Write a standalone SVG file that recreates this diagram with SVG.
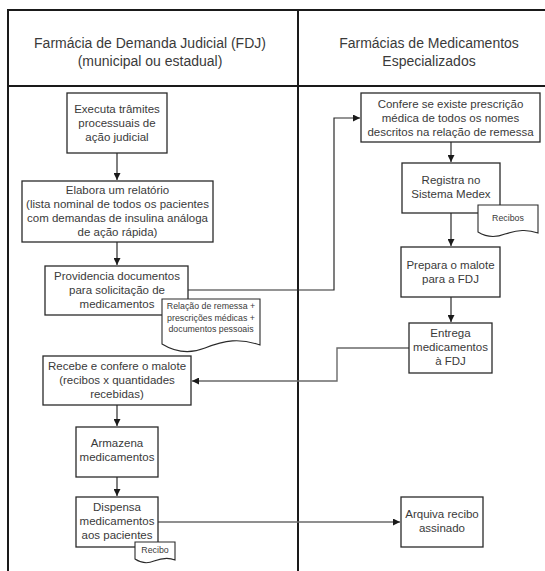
<svg xmlns="http://www.w3.org/2000/svg" width="545" height="571" viewBox="0 0 545 571">
<style>
text{font-family:"Liberation Sans",Arial,sans-serif;fill:#3a3a3a;text-anchor:middle}
.h{font-size:14px}
.t{font-size:11.5px}
.d{font-size:8.8px}
.box{fill:#fff;stroke:#2a2a2a;stroke-width:1.3}
.doc{fill:#fff;stroke:#2a2a2a;stroke-width:1.1}
.lane{fill:none;stroke:#1a1a1a;stroke-width:2}
.c{fill:none;stroke:#2a2a2a;stroke-width:1.2}
.g{fill:none;stroke:#6a6a6a;stroke-width:1.4}
</style>
<defs>
<marker id="a" viewBox="0 0 8 8" refX="8" refY="4" markerWidth="7" markerHeight="7" markerUnits="userSpaceOnUse" orient="auto">
<path d="M0,0 L8,4 L0,8 Z" fill="#1a1a1a"/>
</marker>
</defs>
<rect width="545" height="571" fill="#fff"/>
<g id="lanes">
<path class="lane" d="M8,571 V10 H545 M8,86 H545 M298,10 V571"/>
<text class="h" x="150" y="48">Farmácia de Demanda Judicial (FDJ)</text>
<text class="h" x="150" y="66">(municipal ou estadual)</text>
<text class="h" x="429" y="48">Farmácias de Medicamentos</text>
<text class="h" x="429" y="66">Especializados</text>
</g>
<g id="connectors">
<path class="c" d="M117,153 V180" marker-end="url(#a)"/>
<path class="c" d="M117,242 V265" marker-end="url(#a)"/>
<path class="c" d="M188,290 H334 V118 H360" marker-end="url(#a)"/>
<path class="c" d="M451,142 V162" marker-end="url(#a)"/>
<path class="c" d="M451,213 V246" marker-end="url(#a)"/>
<path class="c" d="M451,297 V322" marker-end="url(#a)"/>
<path class="g" d="M409,348 H337 V381 H192" marker-end="url(#a)"/>
<path class="c" d="M117,405 V426" marker-end="url(#a)"/>
<path class="c" d="M117,477 V496" marker-end="url(#a)"/>
<path class="g" d="M158,522 H400" marker-end="url(#a)"/>
</g>
<g id="n1">
<rect class="box" x="67" y="93" width="100" height="60"/>
<text class="t" x="117" y="113">Executa trâmites</text>
<text class="t" x="117" y="127">processuais de</text>
<text class="t" x="117" y="141">ação judicial</text>
</g>
<g id="n2">
<rect class="box" x="22" y="181" width="191" height="61"/>
<text class="t" x="117.5" y="194">Elabora um relatório</text>
<text class="t" x="117.5" y="208">(lista nominal de todos os pacientes</text>
<text class="t" x="117.5" y="222">com demandas de insulina análoga</text>
<text class="t" x="117.5" y="236">de ação rápida)</text>
</g>
<g id="n3">
<rect class="box" x="45" y="266" width="143" height="49"/>
<text class="t" x="117" y="280">Providencia documentos</text>
<text class="t" x="117" y="294">para solicitação de</text>
<text class="t" x="117" y="308">medicamentos</text>
</g>
<g id="doc1">
<path class="doc" d="M162,299 H260 V345 C240,338 225,340 205,348 C190,354 175,352 162,344 Z"/>
<text class="d" x="211" y="309">Relação de remessa +</text>
<text class="d" x="211" y="320.5">prescrições médicas +</text>
<text class="d" x="211" y="332">documentos pessoais</text>
</g>
<g id="n4">
<rect class="box" x="361" y="93" width="179" height="49"/>
<text class="t" x="450.5" y="108">Confere se existe prescrição</text>
<text class="t" x="450.5" y="122">médica de todos os nomes</text>
<text class="t" x="450.5" y="136">descritos na relação de remessa</text>
</g>
<g id="n5">
<rect class="box" x="402" y="163" width="98" height="50"/>
<text class="t" x="451" y="184">Registra no</text>
<text class="t" x="451" y="198">Sistema Medex</text>
</g>
<g id="doc2">
<path class="doc" d="M478,205 H538 V233 C527,229 518,230 505,234 C495,238 486,237 478,232 Z"/>
<text class="d" x="508" y="221">Recibos</text>
</g>
<g id="n6">
<rect class="box" x="401" y="247" width="99" height="50"/>
<text class="t" x="450.5" y="269">Prepara o malote</text>
<text class="t" x="450.5" y="283">para a FDJ</text>
</g>
<g id="n7">
<rect class="box" x="409" y="323" width="83" height="50"/>
<text class="t" x="450.5" y="337">Entrega</text>
<text class="t" x="450.5" y="351">medicamentos</text>
<text class="t" x="450.5" y="365">à FDJ</text>
</g>
<g id="n8">
<rect class="box" x="43" y="356" width="148" height="49"/>
<text class="t" x="117" y="370">Recebe e confere o malote</text>
<text class="t" x="117" y="384">(recibos x quantidades</text>
<text class="t" x="117" y="398">recebidas)</text>
</g>
<g id="n9">
<rect class="box" x="76" y="427" width="82" height="50"/>
<text class="t" x="117" y="447">Armazena</text>
<text class="t" x="117" y="461">medicamentos</text>
</g>
<g id="n10">
<rect class="box" x="76" y="497" width="82" height="50"/>
<text class="t" x="117" y="511">Dispensa</text>
<text class="t" x="117" y="525">medicamentos</text>
<text class="t" x="117" y="539">aos pacientes</text>
</g>
<g id="doc3">
<path class="doc" d="M135,542 H175 V560 C168,557 162,558 154,561 C147,564 141,563 135,559 Z"/>
<text class="d" x="155" y="553">Recibo</text>
</g>
<g id="n11">
<rect class="box" x="401" y="497" width="82" height="50"/>
<text class="t" x="442" y="518">Arquiva recibo</text>
<text class="t" x="442" y="532">assinado</text>
</g>
</svg>
